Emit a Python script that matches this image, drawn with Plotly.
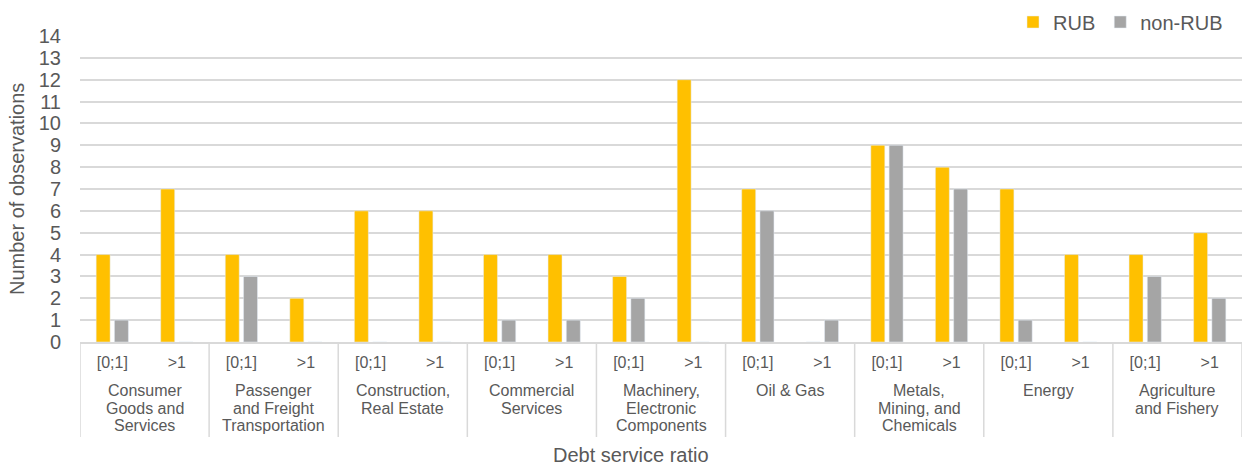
import plotly.graph_objects as go

# Sector groups (outer axis level) and debt service ratio bins (inner level)
sectors = [
    "Consumer<br>Goods and<br>Services",
    "Passenger<br>and Freight<br>Transportation",
    "Construction,<br>Real Estate",
    "Commercial<br>Services",
    "Machinery,<br>Electronic<br>Components",
    "Oil & Gas",
    "Metals,<br>Mining, and<br>Chemicals",
    "Energy",
    "Agriculture<br>and Fishery",
]
ratio_bins = ["[0;1]", ">1"]

# Number of observations per sector and ratio bin
rub = [4, 7, 4, 2, 6, 6, 4, 4, 3, 12, 7, 0, 9, 8, 7, 4, 4, 5]
non_rub = [1, 0, 3, 0, 0, 0, 1, 1, 2, 0, 6, 1, 9, 7, 1, 0, 3, 2]

y_ticks = list(range(0, 15))

n_bins = len(ratio_bins)
positions = list(range(len(sectors) * n_bins))
inner = [b for _ in sectors for b in ratio_bins]

FONT = "Liberation Sans, Arial, sans-serif"
TEXT = "#595959"
GRID = "#d9d9d9"

fig = go.Figure()
fig.add_trace(go.Bar(name="RUB", x=positions, y=rub, marker_color="#FFC000"))
fig.add_trace(go.Bar(name="non-RUB", x=positions, y=non_rub, marker_color="#A5A5A5"))

W, H = 1242, 466
L, R, T, B = 80, 0, 36, 124
pw, ph = W - L - R, H - T - B


def py(px_below_axis):
    """Paper y for a distance in pixels below the x axis line."""
    return -px_below_axis / ph


fig.update_layout(
    width=W, height=H,
    margin=dict(l=L, r=R, t=T, b=B, pad=0),
    paper_bgcolor="white", plot_bgcolor="white",
    font=dict(family=FONT, color=TEXT, size=16),
    barmode="group", bargap=0.434, bargroupgap=0.235,
    legend=dict(
        orientation="h", x=(1228 - L) / pw, xanchor="right",
        y=1 + (T - 22) / ph, yanchor="middle",
        font=dict(size=20, color=TEXT), bgcolor="rgba(0,0,0,0)",
        itemwidth=30, tracegroupgap=0,
    ),
    showlegend=True,
)
fig.update_xaxes(
    range=[-0.5, positions[-1] + 0.5],
    tickvals=positions, ticktext=inner,
    showgrid=False, showline=True, linecolor=GRID, linewidth=1.5,
    zeroline=False, ticks="",
    tickfont=dict(size=16, color=TEXT), ticklabelstandoff=5,
)
fig.update_yaxes(
    range=[0, 14], tickvals=y_ticks, ticktext=[str(v) for v in y_ticks],
    showgrid=True, gridcolor=GRID, gridwidth=1.5,
    zeroline=False, showline=False, ticks="",
    tickfont=dict(size=20, color=TEXT), ticklabelstandoff=18,
)

# Sector labels under each pair of ratio bins, one line at a time
LINE_STEP = 17.3
for i, name in enumerate(sectors):
    centre = i * n_bins + (n_bins - 1) / 2
    for k, line in enumerate(name.split("<br>")):
        fig.add_annotation(
            text=line, xref="x", yref="paper", x=centre, y=py(49 + k * LINE_STEP),
            xanchor="center", yanchor="middle", showarrow=False,
            font=dict(size=16, color=TEXT),
        )

# Dividers between sector groups
for i in range(len(sectors) + 1):
    xb = i * n_bins - 0.5
    fig.add_shape(
        type="line", xref="x", yref="paper", x0=xb, x1=xb, y0=0, y1=py(95),
        line=dict(color=GRID, width=1.5), layer="below",
    )

# Axis titles
fig.add_annotation(
    text="Number of observations", xref="paper", yref="paper",
    x=(17 - L) / pw, y=0.5, xanchor="center", yanchor="middle",
    textangle=-90, showarrow=False, font=dict(size=20, color=TEXT),
)
fig.add_annotation(
    text="Debt service ratio", xref="paper", yref="paper",
    x=(631 - L) / pw, y=py(455 - T - ph), xanchor="center", yanchor="middle",
    showarrow=False, font=dict(size=20, color=TEXT),
)

fig.write_html("out.html")
